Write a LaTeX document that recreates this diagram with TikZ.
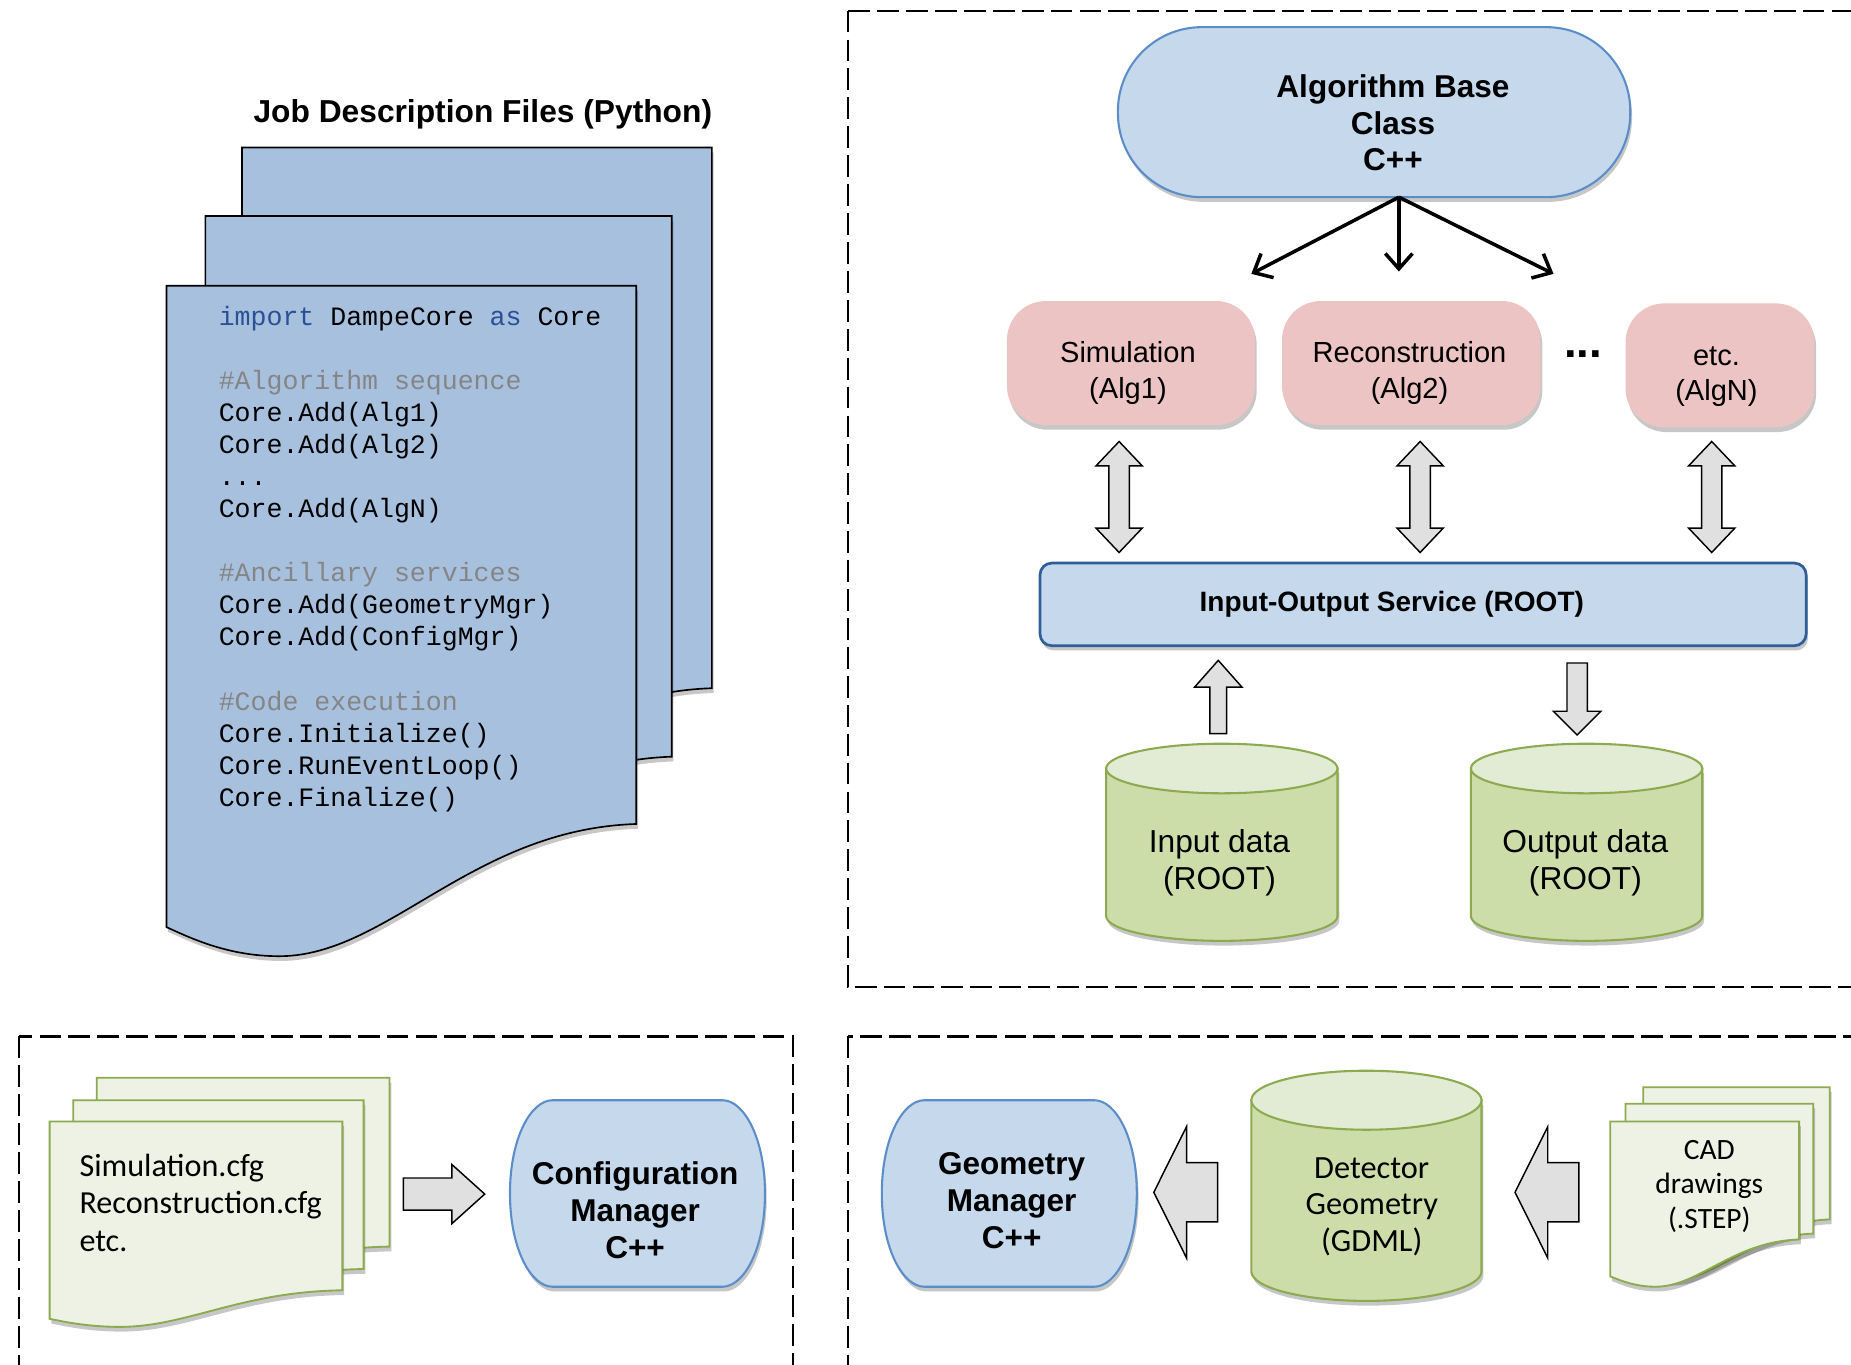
\documentclass[tikz,border=0pt]{standalone}
\usepackage{fontspec}
\setmainfont{Liberation Sans}
\setmonofont{Liberation Mono}
\newfontfamily\calfont{Carlito}
\usetikzlibrary{arrows.meta,shapes.arrows,shadows}

\definecolor{pageblue}{HTML}{A7C0DE}
\definecolor{boxblue}{HTML}{C5D8EC}
\definecolor{lineblue}{HTML}{5B8DC8}
\definecolor{darkblue}{HTML}{2F5E98}
\definecolor{algpink}{HTML}{EBC4C3}
\definecolor{cylbodygreen}{HTML}{CDDDAA}
\definecolor{cyltopgreen}{HTML}{E2EBD3}
\definecolor{olive}{HTML}{8CAA50}
\definecolor{cfgpaper}{HTML}{EEF2E4}
\definecolor{arrowgray}{HTML}{E0E0E0}
\definecolor{kwblue}{HTML}{2A5096}
\definecolor{cmtgray}{HTML}{858585}

\tikzset{
  >/.tip={Straight Barb[length=2.6mm,width=4.6mm]},
  softshadow/.style={drop shadow={shadow xshift=0.3mm,shadow yshift=-0.8mm,opacity=0.22,fill=black}},
  frame/.style={dash pattern=on 3.7mm off 1.2mm, line width=1pt},
  jobpage/.style={fill=pageblue, draw=black, line width=0.8pt, softshadow},
  cfgpage/.style={fill=cfgpaper, draw=olive, line width=0.9pt, softshadow},
  bluebox/.style={fill=boxblue, draw=lineblue, line width=1pt, softshadow},
  iobox/.style={fill=boxblue, draw=darkblue, line width=1.3pt, rounded corners=2mm, softshadow},
  algbox/.style={fill=algpink, draw=none, rounded corners=6.6mm, minimum height=21mm, softshadow},
  cylbody/.style={fill=cylbodygreen, draw=olive, line width=1pt, softshadow},
  cyltop/.style={fill=cyltopgreen, draw=olive, line width=1pt},
  algarrow/.style={->, line width=1.7pt},
  blockarrow/.style={single arrow, draw=black, fill=arrowgray, line width=0.7pt, inner xsep=0pt, anchor=tail},
  dblarrow/.style={double arrow, draw=black, fill=arrowgray, line width=0.7pt, inner xsep=0pt,
    minimum height=18.8mm, inner ysep=1.6mm, double arrow head extend=2.2mm, double arrow tip angle=87, rotate=90},
  titletext/.style={font=\fontsize{15.3}{18}\selectfont\bfseries},
  boldtext/.style={font=\fontsize{15.2}{17.7}\selectfont\bfseries, align=center},
  plaintext/.style={font=\fontsize{14}{17}\selectfont, align=center},
  cyltext/.style={font=\fontsize{15.3}{17.6}\selectfont, align=center},
  caltext/.style={font=\calfont\fontsize{15.6}{17.6}\selectfont, align=center},
  codetext/.style={font=\ttfamily\fontsize{12.8}{15.45}\selectfont, align=left, inner sep=0pt}
}

% style, x, y, width, height, wave depth
\newcommand{\docpage}[6]{%
  \path[#1] (#2,#3) -- ({#2+#4},#3) -- ({#2+#4},{#3+#5})
    .. controls ({#2+0.65*#4},{#3+#5+0.04*#6}) and ({#2+0.47*#4},{#3+#5+#6}) .. ({#2+0.24*#4},{#3+#5+#6})
    .. controls ({#2+0.13*#4},{#3+#5+#6}) and ({#2+0.05*#4},{#3+#5+0.86*#6}) .. (#2,{#3+#5+0.78*#6}) -- cycle;}

% centre x, centre y, half width, half height, bulge
\newcommand{\barrel}[5]{%
  \path[bluebox] ({#1-#3+#5},{#2-#4}) -- ({#1+#3-#5},{#2-#4})
    .. controls ({#1+#3-0.5*#5},{#2-#4}) and ({#1+#3},{#2-0.6*#4}) .. ({#1+#3},#2)
    .. controls ({#1+#3},{#2+0.6*#4}) and ({#1+#3-0.5*#5},{#2+#4}) .. ({#1+#3-#5},{#2+#4})
    -- ({#1-#3+#5},{#2+#4})
    .. controls ({#1-#3+0.5*#5},{#2+#4}) and ({#1-#3},{#2+0.6*#4}) .. ({#1-#3},#2)
    .. controls ({#1-#3},{#2-0.6*#4}) and ({#1-#3+0.5*#5},{#2-#4}) .. ({#1-#3+#5},{#2-#4}) -- cycle;}

% centre x, top, radius, height, end radius
\newcommand{\cyl}[5]{%
  \path[cylbody] ({#1-#3},{#2+#5}) -- ({#1-#3},{#2+#4-#5})
    .. controls ({#1-#3},{#2+#4-0.448*#5}) and ({#1-0.552*#3},{#2+#4}) .. (#1,{#2+#4})
    .. controls ({#1+0.552*#3},{#2+#4}) and ({#1+#3},{#2+#4-0.448*#5}) .. ({#1+#3},{#2+#4-#5})
    -- ({#1+#3},{#2+#5}) -- cycle;
  \path[cyltop] (#1,{#2+#5}) ellipse [x radius={#3*0.2mm}, y radius={#5*0.2mm}];}

\begin{document}
\begin{tikzpicture}[x=0.2mm, y=-0.2mm]
\useasboundingbox (0,0) rectangle (1568,1156);
\clip (0,0) rectangle (1568,1156);

\draw[frame] (718,9) rectangle (1640,836);
\draw[frame] (16,878) rectangle (672,1220);
\draw[frame] (718,878) rectangle (1640,1220);

% job description files
\node[titletext] (jobtitle) at (409,97) {Job Description Files (Python)};
\docpage{jobpage}{205}{125}{398}{458}{112}
\docpage{jobpage}{174}{183}{395}{458}{112}
\docpage{jobpage}{141}{242}{398}{456}{112}
\node[codetext, anchor=north west] (jobcode) at (185,259) {%
\textcolor{kwblue}{import} DampeCore \textcolor{kwblue}{as} Core\\
\mbox{}\\
\textcolor{cmtgray}{\#Algorithm sequence}\\
Core.Add(Alg1)\\
Core.Add(Alg2)\\
...\\
Core.Add(AlgN)\\
\mbox{}\\
\textcolor{cmtgray}{\#Ancillary services}\\
Core.Add(GeometryMgr)\\
Core.Add(ConfigMgr)\\
\mbox{}\\
\textcolor{cmtgray}{\#Code execution}\\
Core.Initialize()\\
Core.RunEventLoop()\\
Core.Finalize()};

% algorithms
\node[bluebox, rounded corners=14.2mm, minimum width=86.8mm, minimum height=28.8mm] (abc) at (1164,95) {};
\node[boldtext] (abctext) at (1180,104) {Algorithm Base\\Class\\C++};

\node[algbox, minimum width=42mm] (sim) at (958,307.5) {};
\node[plaintext] (simtext) at (955.5,316) {Simulation\\(Alg1)};
\node[algbox, minimum width=43.8mm] (rec) at (1195.5,307.5) {};
\node[plaintext] (rectext) at (1194,316) {Reconstruction\\(Alg2)};
\node[algbox, minimum width=32mm] (etc) at (1457,309.5) {};
\node[plaintext] (etctext) at (1454,319) {etc.\\(AlgN)};
\node[font=\fontsize{22}{22}\selectfont\bfseries, inner sep=0pt] (dots) at (1341,300) {...};

\coordinate (fork) at (1185,167);
\coordinate (tosim) at (1060,232);
\coordinate (torec) at (1185,230);
\coordinate (toetc) at (1316,232);
\draw[algarrow] (fork) -- (tosim);
\draw[algarrow] (fork) -- (torec);
\draw[algarrow] (fork) -- (toetc);

\node[dblarrow] (simio) at (948,421) {};
\node[dblarrow] (recio) at (1203,421) {};
\node[dblarrow] (etcio) at (1450,421) {};

\node[iobox, minimum width=129.8mm, minimum height=14mm] (io) at (1205.5,512) {};
\node[boldtext, font=\fontsize{13.5}{16}\selectfont\bfseries] (iotext) at (1179,512) {Input-Output Service (ROOT)};

% data files
\node[blockarrow, rotate=90, minimum height=12.4mm, inner ysep=1.3mm, single arrow head extend=2.6mm, single arrow tip angle=83] (inup) at (1032,622) {};
\node[blockarrow, rotate=-90, minimum height=12.2mm, inner ysep=1.6mm, single arrow head extend=2.3mm, single arrow tip angle=90] (outdown) at (1336,561) {};
\cyl{1035}{630}{98}{167}{21}
\node[cyltext] (indata) at (1033,731) {Input data\\(ROOT)};
\cyl{1344}{630}{98}{167}{21}
\node[cyltext] (outdata) at (1343,731) {Output data\\(ROOT)};

% configuration
\docpage{cfgpage}{82}{913}{248}{143}{31}
\docpage{cfgpage}{62}{932}{246}{143}{31}
\docpage{cfgpage}{42}{950}{248}{143}{31}
\node[caltext, font=\calfont\fontsize{15.5}{18.2}\selectfont, align=left, anchor=west, inner sep=0pt] (cfgfiles) at (67,1019) {Simulation.cfg\\Reconstruction.cfg\\etc.};
\node[blockarrow, minimum height=13.8mm, inner ysep=2.6mm, single arrow head extend=2.3mm, single arrow tip angle=84] (cfgarrow) at (341,1011.5) {};
\barrel{540}{1011}{108}{79}{36}
\node[boldtext] (cfgmgr) at (538,1025) {Configuration\\Manager\\C++};

% geometry
\barrel{855}{1011}{108}{79}{36}
\node[boldtext] (geomgr) at (857,1017) {Geometry\\Manager\\C++};
\node[blockarrow, rotate=180, minimum height=10.8mm, inner ysep=4.9mm, single arrow head extend=6.1mm, single arrow tip angle=127] (geoarrow) at (1032,1010) {};
\cyl{1157.5}{907}{97.5}{195}{25}
\node[caltext] (gdml) at (1162,1022) {Detector\\Geometry\\(GDML)};
\node[blockarrow, rotate=180, minimum height=10.8mm, inner ysep=4.9mm, single arrow head extend=6.1mm, single arrow tip angle=127] (cadarrow) at (1338,1010) {};
\docpage{cfgpage}{1392}{921}{158}{112}{40}
\docpage{cfgpage}{1377}{935}{159}{110}{40}
\docpage{cfgpage}{1364}{950}{160}{100}{40}
\node[caltext, font=\calfont\fontsize{14.2}{16.8}\selectfont] (cad) at (1448,1005) {CAD\\drawings\\(.STEP)};
\end{tikzpicture}
\end{document}
